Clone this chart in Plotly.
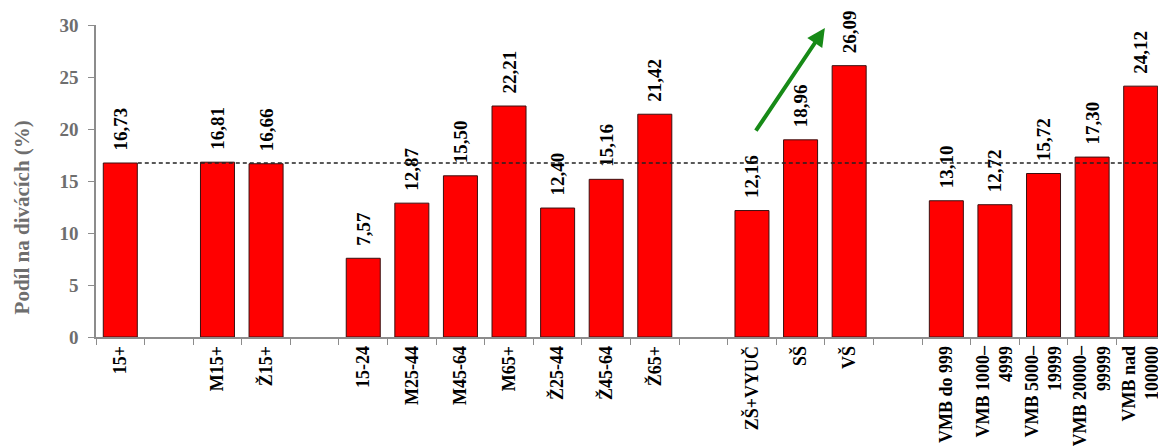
import plotly.graph_objects as go

categories = ["15+", " ", "M15+", "Ž15+", "  ",
              "15-24", "M25-44", "M45-64", "M65+", "Ž25-44", "Ž45-64", "Ž65+", "   ",
              "ZŠ+VYUČ", "SŠ", "VŠ", "    ",
              "VMB do 999", "VMB 1000–<br>4999", "VMB 5000–<br>19999",
              "VMB 20000–<br>99999", "VMB nad<br>100000"]
values = [16.73, None, 16.81, 16.66, None,
          7.57, 12.87, 15.50, 22.21, 12.40, 15.16, 21.42, None,
          12.16, 18.96, 26.09, None,
          13.10, 12.72, 15.72, 17.30, 24.12]
baseline = values[0]
y_ticks = [0, 5, 10, 15, 20, 25, 30]
y_title = "Podíl na divácích (%)"

FONT = "Liberation Serif"
GRAY = "#6e6e6e"
AXIS = "#8c8c8c"

fig = go.Figure()
fig.add_trace(go.Bar(
    x=categories, y=values,
    marker=dict(color="#ff0000", line=dict(color="#3a1010", width=1)),
    texttemplate="\u00a0\u00a0%{y:.2f}",
    textposition="outside", textangle=-90, constraintext="none",
    textfont=dict(family=FONT, size=19, color="black", weight="bold"),
    cliponaxis=False, width=0.7,
))

fig.add_shape(type="line", xref="x", yref="y", x0=0.36, x1=21.5,
              y0=baseline, y1=baseline,
              line=dict(color="#222222", width=1.3, dash="4px,3px"), layer="above")

fig.add_annotation(x=14.5, y=29.7, ax=13.06, ay=19.7, xref="x", yref="y",
                   axref="x", ayref="y", showarrow=True, text="",
                   arrowhead=2, arrowsize=0.9, arrowwidth=4, arrowcolor="#178a17")

fig.add_annotation(x=0, xref="paper", xanchor="center", xshift=-74,
                   y=11.5, yref="y", yanchor="middle",
                   text=y_title, showarrow=False, textangle=-90,
                   font=dict(family=FONT, size=21, color=GRAY, weight="bold"))

fig.update_layout(
    width=1158, height=438,
    margin=dict(l=88, r=1, t=17, b=109),
    paper_bgcolor="white", plot_bgcolor="white",
    separators=",.",
    showlegend=False, bargap=0.3,
    font=dict(family=FONT),
)
fig.update_xaxes(
    type="category", tickson="boundaries", ticks="outside", ticklen=6,
    tickcolor=AXIS, showline=True, linecolor=AXIS, linewidth=1.5,
    tickangle=-90, tickfont=dict(family=FONT, size=18, color="black", weight="bold"),
    showgrid=False, range=[-0.5, 21.5], automargin=False,
)
fig.update_yaxes(
    range=[0, 30], tickvals=y_ticks, ticks="outside", ticklen=6, tickcolor=AXIS,
    showline=True, linecolor=AXIS, linewidth=1.5, showgrid=False, zeroline=False,
    tickfont=dict(family=FONT, size=19, color=GRAY, weight="bold"),
    ticklabelstandoff=6, automargin=False,
)

fig.write_html("out.html")
